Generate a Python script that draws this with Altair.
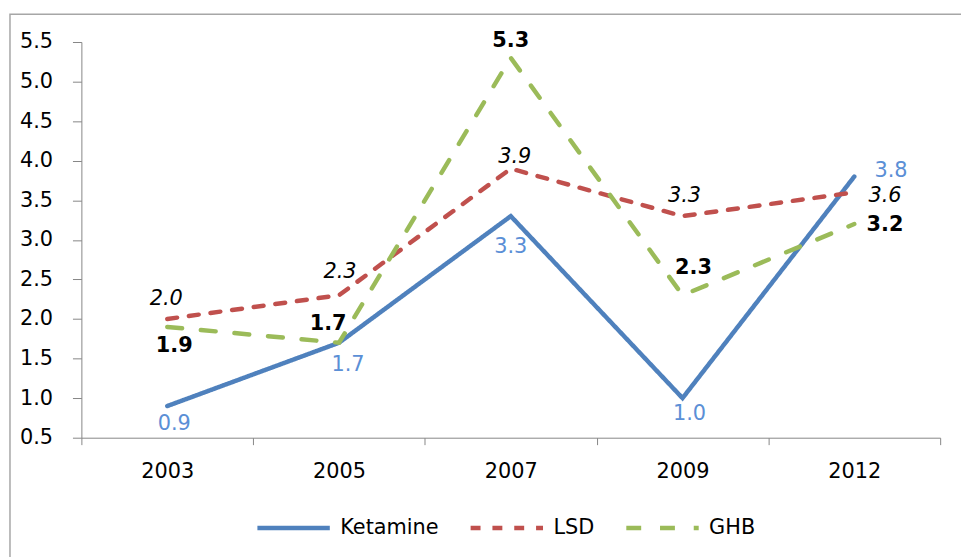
import altair as alt
import pandas as pd

# ---- data ----
years = ["2003", "2005", "2007", "2009", "2012"]
series_names = ["Ketamine", "LSD", "GHB"]
ketamine = [0.9, 1.7, 3.3, 1.0, 3.8]
lsd = [2.0, 2.3, 3.9, 3.3, 3.6]
ghb = [1.9, 1.7, 5.3, 2.3, 3.2]
y_ticks = [0.5, 1.0, 1.5, 2.0, 2.5, 3.0, 3.5, 4.0, 4.5, 5.0, 5.5]

rows = []
for name, vals in zip(series_names, [ketamine, lsd, ghb]):
    for yr, v in zip(years, vals):
        rows.append({"year": yr, "series": name, "value": v})
df = pd.DataFrame(rows)

# ---- styles ----
FONT = "DejaVu Sans"
FS = 21
line_colors = ["#4F81BD", "#C0504D", "#9BBB59"]
dashes = [[1, 0], [10, 12], [15, 19]]
AXIS_GRAY = "#868686"

# per-label placement (like Excel label positions): (dx, dy)
label_offsets = {
    "Ketamine": [(7, 18.5), (9, 22.5), (0, 31), (7, 16), (37, -6)],
    "LSD": [(-1, -20), (1, -23), (4, -12), (2, -20), (31, 4)],
    "GHB": [(7, 19), (-11, -19), (0, -17), (11, -27), (31, 1.5)],
}
label_styles = {
    "Ketamine": dict(color="#5B8FD6", fontStyle="normal", fontWeight="normal"),
    "LSD": dict(color="#000000", fontStyle="italic", fontWeight="normal"),
    "GHB": dict(color="#000000", fontStyle="normal", fontWeight="bold"),
}

W, H = 866, 399
PAD_L, PAD_T = 74, 32
TOTAL_W, TOTAL_H = 961, 549

X = alt.X(
    "year:N",
    scale=alt.Scale(type="band", domain=years, paddingInner=0, paddingOuter=0),
    bandPosition=0.5,
    axis=alt.Axis(
        title=None, labelAngle=0, tickBand="extent", tickSize=7,
        labelPadding=16, domainColor=AXIS_GRAY, tickColor=AXIS_GRAY,
        labelFont=FONT, labelFontSize=FS, labelColor="#000000",
    ),
)
Y = alt.Y(
    "value:Q",
    scale=alt.Scale(domain=[0.5, 5.5], nice=False, zero=False),
    axis=alt.Axis(
        title=None, values=y_ticks, format=".1f", grid=False, tickSize=9,
        labelPadding=20, domainColor=AXIS_GRAY, tickColor=AXIS_GRAY,
        labelFont=FONT, labelFontSize=FS, labelColor="#000000",
    ),
)

legend = alt.Legend(
    title=None, orient="none", direction="horizontal",
    legendX=175, legendY=451, symbolType="stroke", symbolSize=5329,
    symbolStrokeWidth=4.5, labelFont=FONT, labelFontSize=FS,
    labelColor="#000000", labelOffset=8, columnPadding=22, padding=0,
)

base = alt.Chart(df)

lines = base.mark_line(strokeWidth=4.5, strokeCap="round").encode(
    x=X,
    y=Y,
    color=alt.Color("series:N", scale=alt.Scale(domain=series_names, range=line_colors), legend=legend),
    strokeDash=alt.StrokeDash("series:N", scale=alt.Scale(domain=series_names, range=dashes), legend=legend),
)

text_layers = []
for s in series_names:
    st = label_styles[s]
    for yr, (dx, dy) in zip(years, label_offsets[s]):
        t = base.transform_filter(
            (alt.datum.series == s) & (alt.datum.year == yr)
        ).mark_text(
            dx=dx, dy=dy, font=FONT, fontSize=FS, baseline="middle", align="center",
            color=st["color"], fontStyle=st["fontStyle"], fontWeight=st["fontWeight"],
        ).encode(x=X, y=Y, text=alt.Text("value:Q", format=".1f"))
        text_layers.append(t)

frame = alt.Chart(pd.DataFrame({"k": [0]})).mark_rect(
    filled=False, stroke="#A6A6A6", strokeWidth=1.5
).encode(
    x=alt.value(-PAD_L + 2), y=alt.value(-PAD_T + 4),
    x2=alt.value(W + 60), y2=alt.value(H + 160),
)

chart = alt.layer(frame, lines, *text_layers).properties(
    width=W, height=H,
    autosize=alt.AutoSizeParams(type="none"),
    padding={"left": PAD_L, "top": PAD_T, "right": TOTAL_W - PAD_L - W, "bottom": TOTAL_H - PAD_T - H},
    background="white",
).configure_view(stroke=None)

chart.save("out.html", embed_options={"renderer": "svg", "actions": False})
